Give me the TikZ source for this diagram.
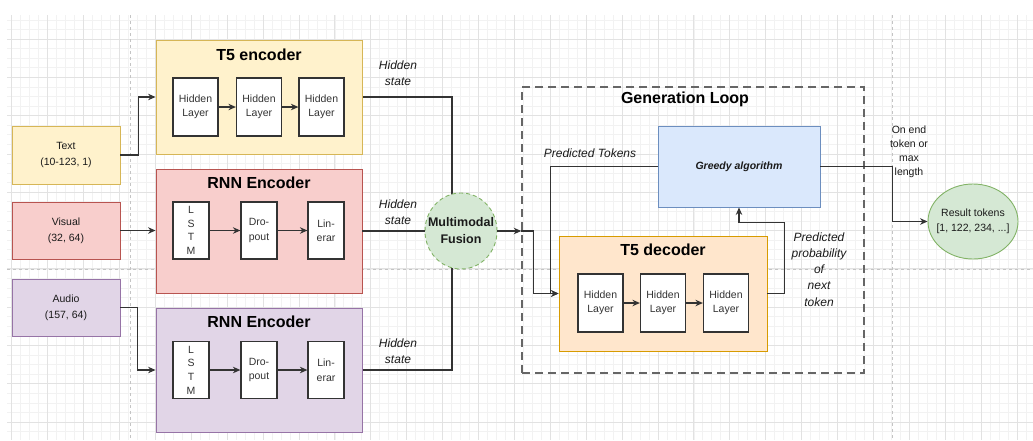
\documentclass[tikz,border=0pt]{standalone}
\usepackage{fontspec}
\setmainfont{Liberation Sans}
\usetikzlibrary{arrows.meta,calc,shapes.geometric}

\pgfdeclarelayer{canvas}
\pgfdeclarelayer{wires}
\pgfsetlayers{canvas,wires,main}

\definecolor{ink}{HTML}{333333}
\definecolor{txt}{HTML}{1A1A1A}
\definecolor{gridminor}{HTML}{F2F2F2}
\definecolor{gridmajor}{HTML}{E2E2E2}
\definecolor{pageline}{HTML}{C4C4C4}
\definecolor{yelfill}{HTML}{FFF2CC}
\definecolor{yelline}{HTML}{D6B656}
\definecolor{redfill}{HTML}{F8CECC}
\definecolor{redline}{HTML}{B85450}
\definecolor{purfill}{HTML}{E1D5E7}
\definecolor{purline}{HTML}{9673A6}
\definecolor{orafill}{HTML}{FFE6CC}
\definecolor{oraline}{HTML}{D79B00}
\definecolor{blufill}{HTML}{DAE8FC}
\definecolor{bluline}{HTML}{6C8EBF}
\definecolor{grnfill}{HTML}{D5E8D4}
\definecolor{grnline}{HTML}{82B366}
\definecolor{loopline}{HTML}{666666}

\begin{document}
\begin{tikzpicture}[x=1pt,y=-1pt,
  minorln/.style={draw=gridminor,line width=0.6pt},
  majorln/.style={draw=gridmajor,line width=0.8pt},
  pagebreak/.style={draw=pageline,line width=0.7pt,dash pattern=on 3pt off 3pt},
  inbox/.style={rectangle,line width=0.9pt,inner sep=0pt,align=center,
    minimum width=108pt,text=txt,font=\fontsize{10.5}{16}\selectfont},
  panel/.style={rectangle,line width=0.9pt,inner sep=0pt,minimum width=206pt},
  paneltitle/.style={font=\bfseries\fontsize{16}{19}\selectfont,text=black,inner sep=0pt},
  cell/.style={rectangle,draw=ink,line width=1.2pt,fill=white,inner sep=0pt,
    minimum width=45pt,minimum height=58pt,align=center,text=ink,
    font=\fontsize{10.5}{14.5}\selectfont},
  thincell/.style={cell,minimum width=36pt,minimum height=57pt,
    font=\fontsize{10.5}{14.5}\selectfont},
  lstmcell/.style={thincell,font=\fontsize{10.5}{13.7}\selectfont},
  blob/.style={ellipse,fill=grnfill,draw=grnline,line width=0.9pt,inner sep=0pt},
  lbl/.style={font=\itshape\fontsize{12}{16}\selectfont,text=txt,align=center,inner sep=0pt},
  smalllbl/.style={font=\fontsize{10.5}{14}\selectfont,text=txt,align=center,inner sep=0pt},
  wire/.style={draw=ink,line width=1.2pt},
  arr/.style={wire,-{Stealth[length=7.5pt,width=6.5pt]}},
]

\useasboundingbox (0,0) rectangle (1033,440);

% ---- drawing canvas: grid and page breaks ----
\begin{pgfonlayer}{canvas}
  \fill[white] (0,0) rectangle (1033,440);
  \foreach \i in {0,...,113}
    \draw[minorln] ({11.7+8.975*\i},15) -- ({11.7+8.975*\i},440);
  \foreach \j in {-2,...,41}
    \draw[minorln] (7,{39+9.575*\j}) -- (1033,{39+9.575*\j});
  \foreach \i in {0,...,28}
    \draw[majorln] ({11.7+35.9*\i},15) -- ({11.7+35.9*\i},440);
  \foreach \j in {0,...,10}
    \draw[majorln] (7,{39+38.3*\j}) -- (1033,{39+38.3*\j});
  \draw[pagebreak] (130,15) -- (130,440);
  \draw[pagebreak] (892,15) -- (892,440);
  \draw[pagebreak] (7,269) -- (1033,269);
\end{pgfonlayer}

% ---- inputs ----
\node[inbox,fill=yelfill,draw=yelline,minimum height=58pt] (text) at (66,155) {Text\\(10-123, 1)};
\node[inbox,fill=redfill,draw=redline,minimum height=57pt] (visual) at (66,230.5) {Visual\\(32, 64)};
\node[inbox,fill=purfill,draw=purline,minimum height=57pt] (audio) at (66,307.5) {Audio\\(157, 64)};

% ---- T5 encoder ----
\node[panel,fill=yelfill,draw=yelline,minimum height=114pt] (enc) at (259,97) {};
\node[paneltitle] at (259,55) {T5 encoder};
\node[cell] (e1) at (195.5,107) {Hidden\\Layer};
\node[cell] (e2) at (259,107) {Hidden\\Layer};
\node[cell] (e3) at (321.5,107) {Hidden\\Layer};
\draw[arr] (e1) -- (e2);
\draw[arr] (e2) -- (e3);

% ---- RNN encoder (visual) ----
\node[panel,fill=redfill,draw=redline,minimum height=124pt] (rnnv) at (259,231) {};
\node[paneltitle] at (259,183) {RNN Encoder};
\node[lstmcell] (v1) at (191,230.5) {L\\S\\T\\M};
\node[thincell] (v2) at (259,230.5) {Dro-\\pout};
\node[thincell] (v3) at (326,230.5) {Lin-\\erar};
\draw[arr] (v1) -- (v2);
\draw[arr] (v2) -- (v3);

% ---- RNN encoder (audio) ----
\node[panel,fill=purfill,draw=purline,minimum height=124pt] (rnna) at (259,370) {};
\node[paneltitle] at (259,322) {RNN Encoder};
\node[lstmcell] (a1) at (191,370) {L\\S\\T\\M};
\node[thincell] (a2) at (259,370) {Dro-\\pout};
\node[thincell] (a3) at (326,370) {Lin-\\erar};
\draw[arr] (a1) -- (a2);
\draw[arr] (a2) -- (a3);

% ---- inputs into encoders ----
\draw[arr] (text.east) -- ++(18,0) |- (enc.west);
\draw[arr] (visual.east) -- (visual.east -| rnnv.west);
\draw[arr] (audio.east) -- ++(17,0) |- (rnna.west);

% ---- multimodal fusion ----
\node[blob,dash pattern=on 4pt off 3pt,minimum width=72pt,minimum height=76pt] (fus) at (461,231) {};
\node[align=center,inner sep=0pt,font=\bfseries\fontsize{12.5}{17}\selectfont,text=txt]
  at (fus.center) {Multimodal\\Fusion};

\begin{pgfonlayer}{wires}
  \draw[wire] (enc.east) -| ($(fus.center)+(-9,0)$);
  \draw[wire] (rnna.east) -| ($(fus.center)+(-9,0)$);
\end{pgfonlayer}
\draw[wire] (rnnv.east) -- (fus.west);

\node[lbl] at (398,73) {Hidden\\state};
\node[lbl] at (398,212.5) {Hidden\\state};
\node[lbl] at (398,351) {Hidden\\state};

% ---- generation loop ----
\node[rectangle,draw=loopline,line width=1.5pt,dash pattern=on 8pt off 5pt,
  minimum width=342pt,minimum height=286pt,inner sep=0pt] (loop) at (693,230) {};
\node[paneltitle] at (685,99) {Generation Loop};

\node[rectangle,fill=blufill,draw=bluline,line width=0.9pt,minimum width=162pt,
  minimum height=81pt,inner sep=0pt,font=\bfseries\itshape\fontsize{10.5}{13}\selectfont,
  text=txt] (greedy) at (739,166.5) {Greedy algorithm};

\node[panel,fill=orafill,draw=oraline,minimum width=208pt,minimum height=115pt] (dec) at (663,293.5) {};
\node[paneltitle] at (663,250) {T5 decoder};
\node[cell] (d1) at (600.5,303) {Hidden\\Layer};
\node[cell] (d2) at (663,303) {Hidden\\Layer};
\node[cell] (d3) at (726,303) {Hidden\\Layer};
\draw[arr] (d1) -- (d2);
\draw[arr] (d2) -- (d3);

\coordinate (entry) at (fus.east -| loop.west);
\draw[arr] (fus.east) -- (entry);
\draw[arr] (entry) -- ++(12,0) |- (dec.west);
\draw[arr] (greedy.west) -- ++(-107,0) |- (dec.west);
\draw[arr] (dec.east) -- ++(17,0) |- ($(greedy.south)+(0,15)$) -- (greedy.south);

\node[lbl] at (590,153) {Predicted Tokens};
\node[lbl,font=\itshape\fontsize{12}{16.2}\selectfont] at (819,269.5) {Predicted\\probability\\of\\next\\token};

% ---- result ----
\node[blob,minimum width=90pt,minimum height=75pt] (res) at (973,221.5) {};
\node[align=center,inner sep=0pt,text=txt,font=\fontsize{10.5}{15}\selectfont]
  at (res.center) {Result tokens\\{[1, 122, 234, ...]}};
\draw[arr] (greedy.east) -- ++(72,0) |- (res.west);
\node[smalllbl] at (909,152) {On end\\token or\\max\\length};

\end{tikzpicture}
\end{document}
